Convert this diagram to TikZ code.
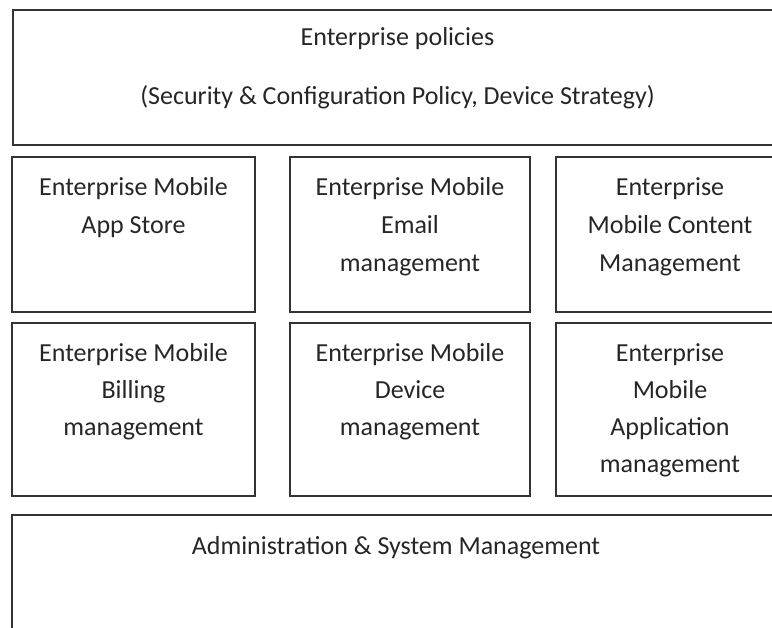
\documentclass[tikz,border=0pt]{standalone}
\usepackage{fontspec}
\setmainfont{Carlito}
\tikzset{
  box/.style={draw=black!80, line width=1.6pt, rectangle, anchor=north west, inner sep=0pt, outer sep=0pt},
  boxtext/.style={anchor=north, inner sep=0pt, align=center, text=black!85,
    font=\fontsize{26}{38}\selectfont},
}
\begin{document}
\begin{tikzpicture}[x=1pt,y=-1pt]
\useasboundingbox (0,0) rectangle (772,628);
\clip (0,0) rectangle (772,628);
% boxes
\node[box, minimum width=769pt, minimum height=135pt] (top) at (13,10) {};
\node[box, minimum width=243pt, minimum height=155pt] (a1) at (12,157) {};
\node[box, minimum width=240pt, minimum height=155pt] (a2) at (290,157) {};
\node[box, minimum width=228pt, minimum height=155pt] (a3) at (556,157) {};
\node[box, minimum width=243pt, minimum height=173pt] (b1) at (12,323) {};
\node[box, minimum width=240pt, minimum height=173pt] (b2) at (290,323) {};
\node[box, minimum width=228pt, minimum height=173pt] (b3) at (556,323) {};
\node[box, minimum width=768pt, minimum height=150pt] (bottom) at (12,515) {};
% texts
\node[boxtext] (ttop) at ([yshift=-8.4pt]top.north) {\strut Enterprise policies\\[21pt](Security \& Configuration Policy, Device Strategy)};
\node[boxtext] (ta1) at ([yshift=-11.4pt]a1.north) {\strut Enterprise Mobile\\App Store};
\node[boxtext] (ta2) at ([yshift=-11.4pt]a2.north) {\strut Enterprise Mobile\\Email\\management};
\node[boxtext] (ta3) at ([yshift=-11.4pt]a3.north) {\strut Enterprise\\Mobile Content\\Management};
\node[boxtext] (tb1) at ([yshift=-11.4pt]b1.north) {\strut Enterprise Mobile\\[-1pt]Billing\\[-1pt]management};
\node[boxtext] (tb2) at ([yshift=-11.4pt]b2.north) {\strut Enterprise Mobile\\[-1pt]Device\\[-1pt]management};
\node[boxtext] (tb3) at ([yshift=-11.4pt]b3.north) {\strut Enterprise\\[-1pt]Mobile\\[-1pt]Application\\[-1pt]management};
\node[boxtext] (tbottom) at ([yshift=-12.6pt]bottom.north) {\strut Administration \& System Management};
\end{tikzpicture}
\end{document}
